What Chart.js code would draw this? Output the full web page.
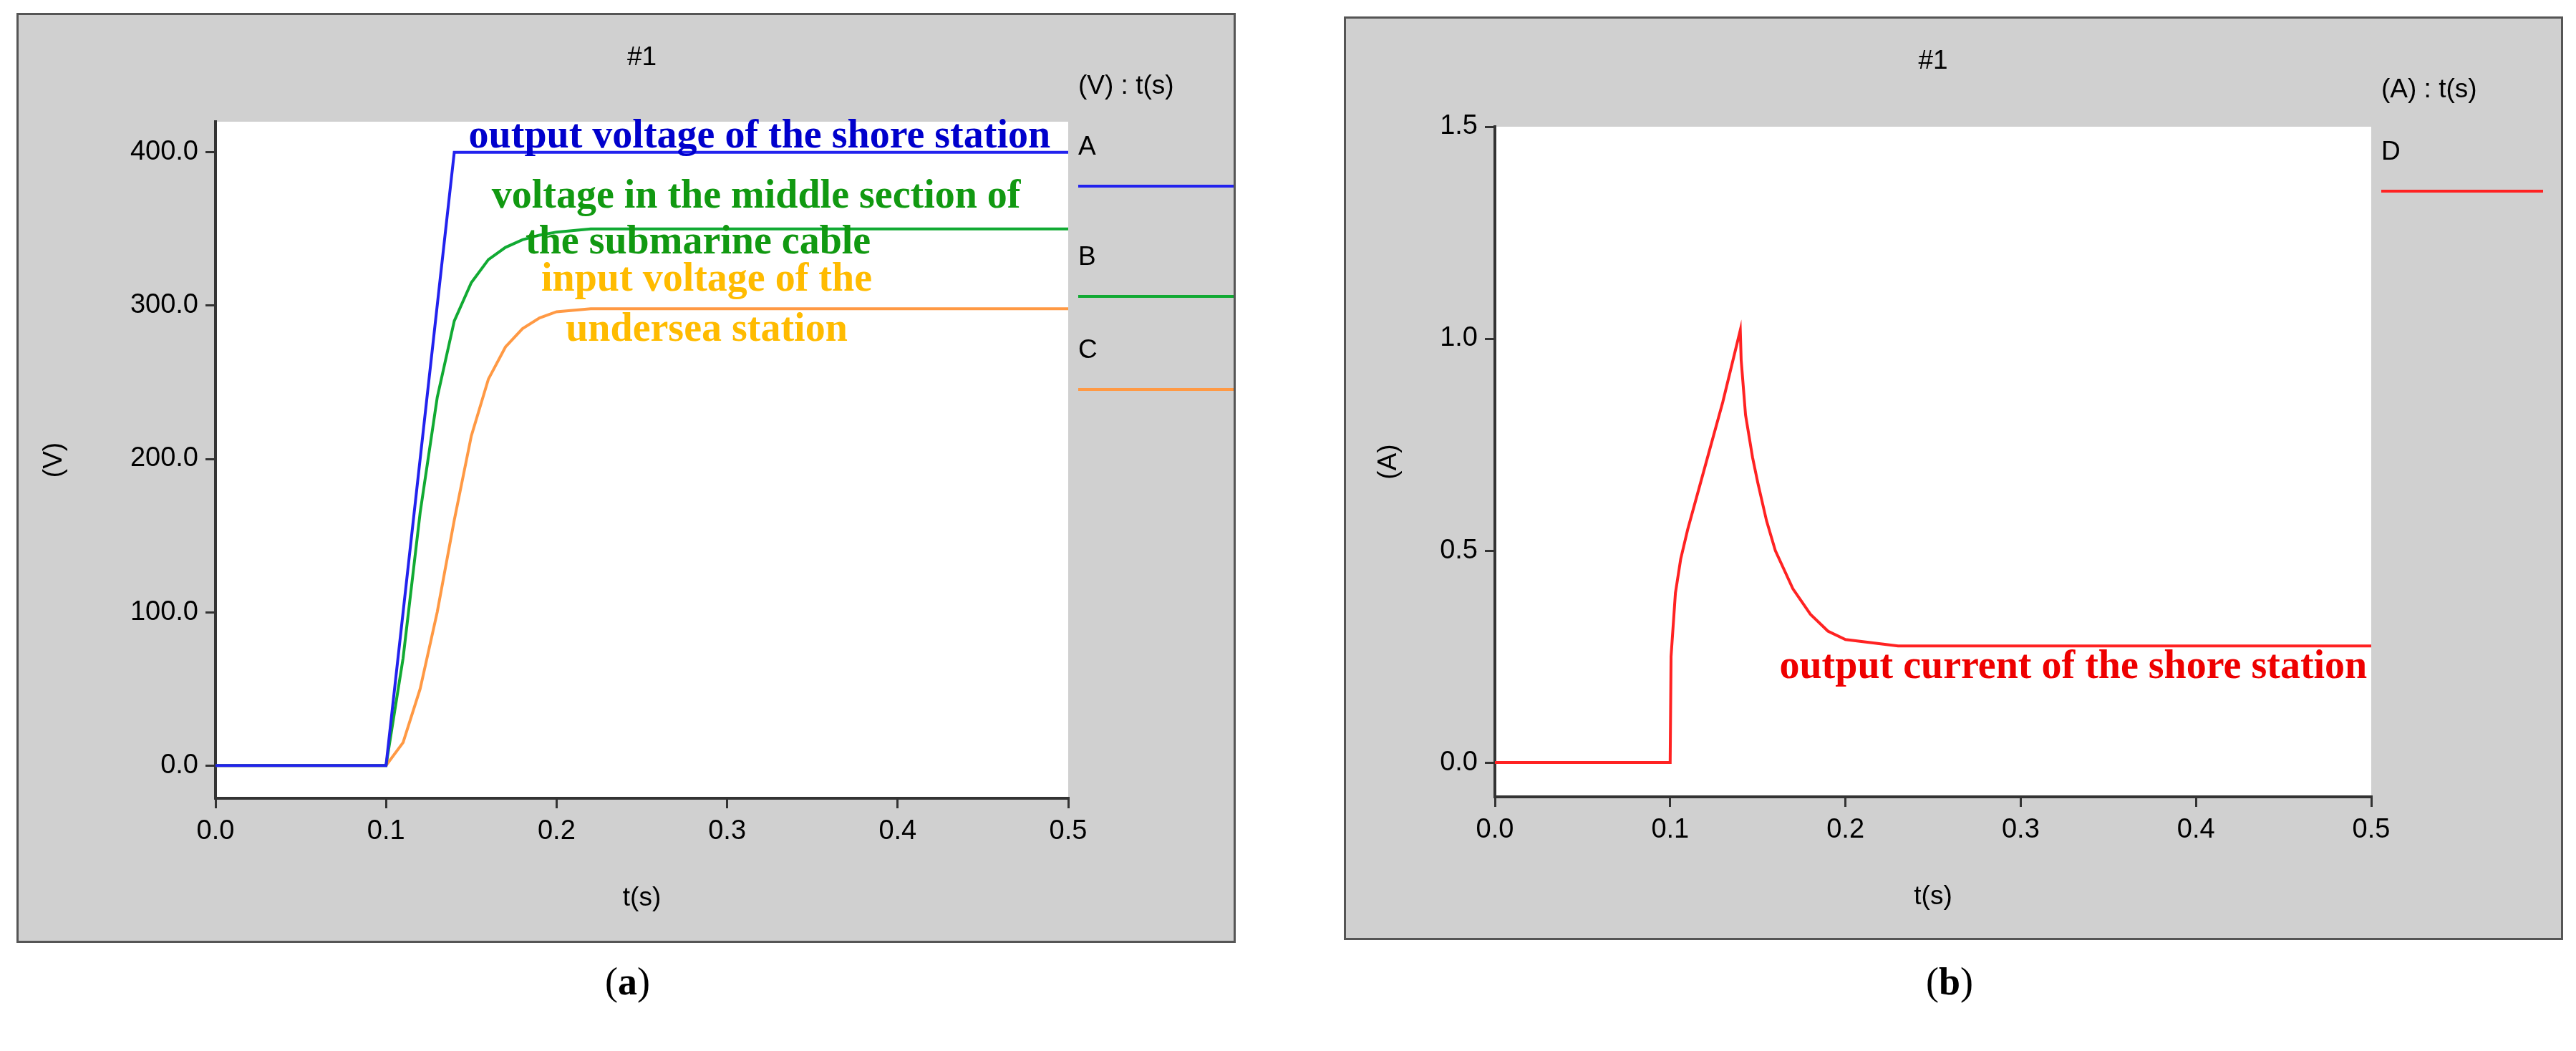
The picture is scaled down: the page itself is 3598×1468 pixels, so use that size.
<!DOCTYPE html>
<html><head><meta charset="utf-8">
<script src="https://cdn.jsdelivr.net/npm/chart.js@4"></script>
<style>
body{margin:0;width:3598px;height:1468px;background:#fff;position:relative;font-family:"Liberation Sans",Arial,sans-serif}
.panel{position:absolute;background:#d0d0d0;border:3px solid #555;box-sizing:border-box}
.cap{position:absolute;font:54px "Liberation Serif",serif;top:1340px}
</style></head><body>
<div class="panel" style="left:23px;top:18px;width:1703px;height:1299px"><canvas id="ca"></canvas></div>
<div class="panel" style="left:1877px;top:23px;width:1703px;height:1290px"><canvas id="cb"></canvas></div>
<div class="cap" style="left:845px">(<b>a</b>)</div>
<div class="cap" style="left:2690px">(<b>b</b>)</div>
<script>
// panel (a) voltages
const timeA = [0, 0.1, 0.14, 0.5];
const voltA = [0, 0, 400, 400];
const timeB = [0, 0.1, 0.11, 0.12, 0.13, 0.14, 0.15, 0.16, 0.17, 0.18, 0.19, 0.2, 0.22, 0.5];
const voltB = [0, 0, 70, 165, 240, 290, 315, 330, 338, 343, 346, 348, 350, 350];
const timeC = [0, 0.1, 0.11, 0.12, 0.13, 0.14, 0.15, 0.16, 0.17, 0.18, 0.19, 0.2, 0.22, 0.5];
const voltC = [0, 0, 15, 50, 100, 160, 215, 252, 273, 285, 292, 296, 298, 298];
// panel (b) current
const timeD = [0, 0.1, 0.1005, 0.103, 0.106, 0.11, 0.12, 0.13, 0.14, 0.1405, 0.143, 0.147, 0.15, 0.155, 0.16, 0.17, 0.18, 0.19, 0.2, 0.22, 0.23, 0.5];
const currD = [0, 0, 0.25, 0.4, 0.48, 0.55, 0.7, 0.85, 1.02, 0.95, 0.82, 0.72, 0.66, 0.57, 0.5, 0.41, 0.35, 0.31, 0.29, 0.28, 0.275, 0.275];

const xTicks = [0, 0.1, 0.2, 0.3, 0.4, 0.5];
const yTicksA = [0, 100, 200, 300, 400];
const yTicksB = [0, 0.5, 1.0, 1.5];

function pts(xs, ys) { return xs.map((x, i) => ({x: x, y: ys[i]})); }

const deco = {
  id: 'deco',
  beforeDraw(chart) {
    const {ctx, chartArea: a} = chart;
    ctx.save();
    ctx.fillStyle = '#fff';
    ctx.fillRect(a.left, a.top, a.right - a.left, a.bottom - a.top);
    ctx.restore();
  },
  afterDraw(chart, args, o) {
    const {ctx, chartArea: a, scales} = chart;
    ctx.save();
    ctx.fillStyle = '#000';
    ctx.font = '37px "Liberation Sans", Arial';
    ctx.textAlign = 'center';
    ctx.fillText('#1', (a.left + a.right) / 2, 70);
    ctx.fillText('t(s)', (a.left + a.right) / 2, a.bottom + 150);
    ctx.save();
    ctx.translate(o.yTitleX, (a.top + a.bottom) / 2);
    ctx.rotate(-Math.PI / 2);
    ctx.fillText(o.yTitle, 0, 0);
    ctx.restore();
    ctx.textAlign = 'left';
    ctx.fillText(o.unit, a.right + 14, 110);
    o.legend.forEach(l => {
      ctx.fillStyle = '#000';
      ctx.fillText(l.name, a.right + 14, a.top + l.dy);
      ctx.strokeStyle = l.color; ctx.lineWidth = 4;
      ctx.beginPath(); ctx.moveTo(a.right + 14, a.top + l.dy + 44); ctx.lineTo(a.right + 240, a.top + l.dy + 44); ctx.stroke();
    });
    ctx.font = 'bold 56px "Liberation Serif", serif';
    ctx.textAlign = 'center';
    o.notes.forEach(n => {
      ctx.fillStyle = n.color;
      ctx.fillText(n.text, scales.x.getPixelForValue(n.x), scales.y.getPixelForValue(n.y));
    });
    ctx.restore();
  }
};

function axisOpts(min, max, ticks, fit) {
  return {
    type: 'linear', min: min, max: max,
    afterFit: fit,
    afterBuildTicks: s => { s.ticks = ticks.map(v => ({value: v})); },
    border: {display: true, color: '#333', width: 4},
    grid: {drawOnChartArea: false, drawTicks: true, tickLength: 14, color: '#333', lineWidth: 3},
    ticks: {padding: 10, color: '#000', font: {size: 38, family: '"Liberation Sans", Arial'},
      callback: v => Number(v).toFixed(1)}
  };
}

function makeChart(id, w, h, pad, datasets, yMin, yMax, yTicks, plug) {
  const cv = document.getElementById(id);
  cv.width = w; cv.height = h;
  cv.style.width = w + 'px'; cv.style.height = h + 'px';
  return new Chart(cv, {
    type: 'scatter',
    data: {datasets: datasets.map(d => ({data: d.data, borderColor: d.color, borderWidth: 4, showLine: true, pointRadius: 0, tension: 0}))},
    options: {
      responsive: false, animation: false, devicePixelRatio: 1,
      layout: {padding: {top: pad.top, right: pad.right, left: 0, bottom: 0}},
      plugins: {legend: {display: false}, tooltip: {enabled: false}, deco: plug},
      scales: {
        x: axisOpts(0, 0.5, xTicks, s => { s.height = pad.bottom; }),
        y: axisOpts(yMin, yMax, yTicks, s => { s.width = pad.left; })
      }
    },
    plugins: [deco]
  });
}

makeChart('ca', 1697, 1293, {left: 275, top: 149, right: 231, bottom: 199}, [
  {data: pts(timeA, voltA), color: '#2222ee'},
  {data: pts(timeB, voltB), color: '#11aa33'},
  {data: pts(timeC, voltC), color: '#ff9944'}
], -21.4, 420, yTicksA, {
  unit: '(V) : t(s)', yTitle: '(V)', yTitleX: 60,
  legend: [{name: 'A', dy: 46, color: '#2222ee'}, {name: 'B', dy: 200, color: '#11aa33'}, {name: 'C', dy: 330, color: '#ff9944'}],
  notes: [
    {text: 'output voltage of the shore station', x: 0.319, y: 403, color: '#0000cc'},
    {text: 'voltage in the middle section of', x: 0.317, y: 364, color: '#119911'},
    {text: 'the submarine cable', x: 0.283, y: 334, color: '#119911'},
    {text: 'input voltage of the', x: 0.288, y: 310, color: '#ffbb00'},
    {text: 'undersea station', x: 0.288, y: 277, color: '#ffbb00'}
  ]
});

makeChart('cb', 1697, 1284, {left: 208, top: 151, right: 265, bottom: 197}, [
  {data: pts(timeD, currD), color: '#ff2222'}
], -0.081, 1.5, yTicksB, {
  unit: '(A) : t(s)', yTitle: '(A)', yTitleX: 70,
  legend: [{name: 'D', dy: 46, color: '#ff2222'}],
  notes: [{text: 'output current of the shore station', x: 0.33, y: 0.2, color: '#ee0000'}]
});
</script>
</body></html>
